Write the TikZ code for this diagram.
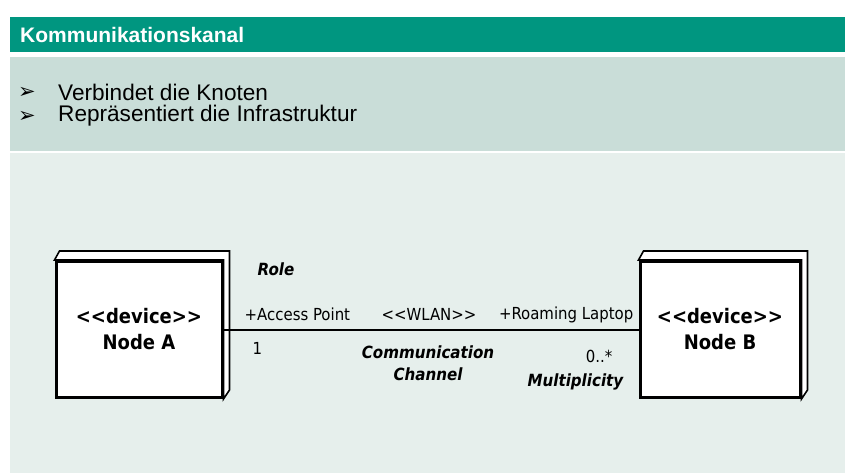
\documentclass[tikz,border=0pt]{standalone}
\usepackage{fontspec}
\setmainfont{Liberation Sans}
\newfontfamily\umlfont{DejaVu Sans Condensed}
\newfontfamily\symfont{DejaVu Sans}
\usetikzlibrary{positioning, calc}
\definecolor{headgreen}{RGB}{0,150,128}
\definecolor{bulletbg}{RGB}{201,221,216}
\definecolor{diagbg}{RGB}{230,239,236}
\tikzstyle{device} = [rectangle, draw=black, line width=3pt, fill=white, minimum width=166pt, minimum height=136pt, align=center, inner sep=0pt, font=\umlfont\bfseries\fontsize{20}{26}\selectfont]
\tikzstyle{back} = [draw=black, line width=1.6pt, fill=white, line join=miter]
\tikzstyle{lbl} = [inner sep=0pt, font=\umlfont\fontsize{16.6}{18}\selectfont]
\tikzstyle{note} = [inner sep=0pt, align=center, font=\umlfont\bfseries\itshape\fontsize{16.8}{22}\selectfont]
\tikzstyle{bullet} = [inner sep=0pt, anchor=west, font=\fontsize{22.6}{24}\selectfont]
\tikzstyle{link} = [line width=2pt]

\begin{document}
\begin{tikzpicture}[x=1pt, y=-1pt]
\useasboundingbox (0,0) rectangle (852,473);

% slide background
\fill[headgreen] (10,17) rectangle (845,52);
\fill[bulletbg] (10,57) rectangle (845,151);
\fill[diagbg] (10,153) rectangle (845,473);

\node (hdr) [anchor=west, inner sep=0pt, text=white, font=\bfseries\fontsize{21}{24}\selectfont] at (20,35) {Kommunikationskanal};

\node (arr1) [inner sep=0pt, font=\symfont\fontsize{21}{24}\selectfont] at (27,93) {➢};
\node (arr2) [inner sep=0pt, font=\symfont\fontsize{21}{24}\selectfont] at (27,117) {➢};
\node (bul1) [bullet] at (58,92) {Verbindet die Knoten};
\node (bul2) [bullet] at (58,116) {Repräsentiert die Infrastruktur};

% the two devices
\node (nodeA) [device] at (139,329.5) {<<device>>\\Node A};
\node (nodeB) [device, minimum width=160pt] at (720,329.5) {<<device>>\\Node B};
\foreach \n in {nodeA,nodeB}
  \draw[back] (\n.north west) -- ++(5,-9) -- ($(\n.north east)+(6,-9)$) -- ($(\n.south east)+(6,-9)$) -- (\n.south east) -- (\n.north east) -- cycle;

\draw [link] (nodeA.east) -- (nodeB.west);

% labels on the channel
\node (role) [note, anchor=west] at ([xshift=34pt,yshift=60pt]nodeA.east) {Role};
\node (accpt) [lbl, anchor=west] at ([xshift=21pt,yshift=15pt]nodeA.east) {+Access Point};
\node (wlan) [lbl] at (429,314.5) {<<WLAN>>};
\node (roam) [lbl, anchor=east] at ([xshift=-5pt,yshift=15pt]nodeB.west) {+Roaming Laptop};
\node (multA) [lbl, anchor=west] at ([xshift=29pt,yshift=-19pt]nodeA.east) {1};
\node (chan) [note] at (428,363) {Communication\\Channel};
\node (multB) [lbl] at (599,356) {0..*};
\node (multnote) [note, anchor=east] at ([xshift=-15pt,yshift=-52pt]nodeB.west) {Multiplicity};

\end{tikzpicture}
\end{document}
